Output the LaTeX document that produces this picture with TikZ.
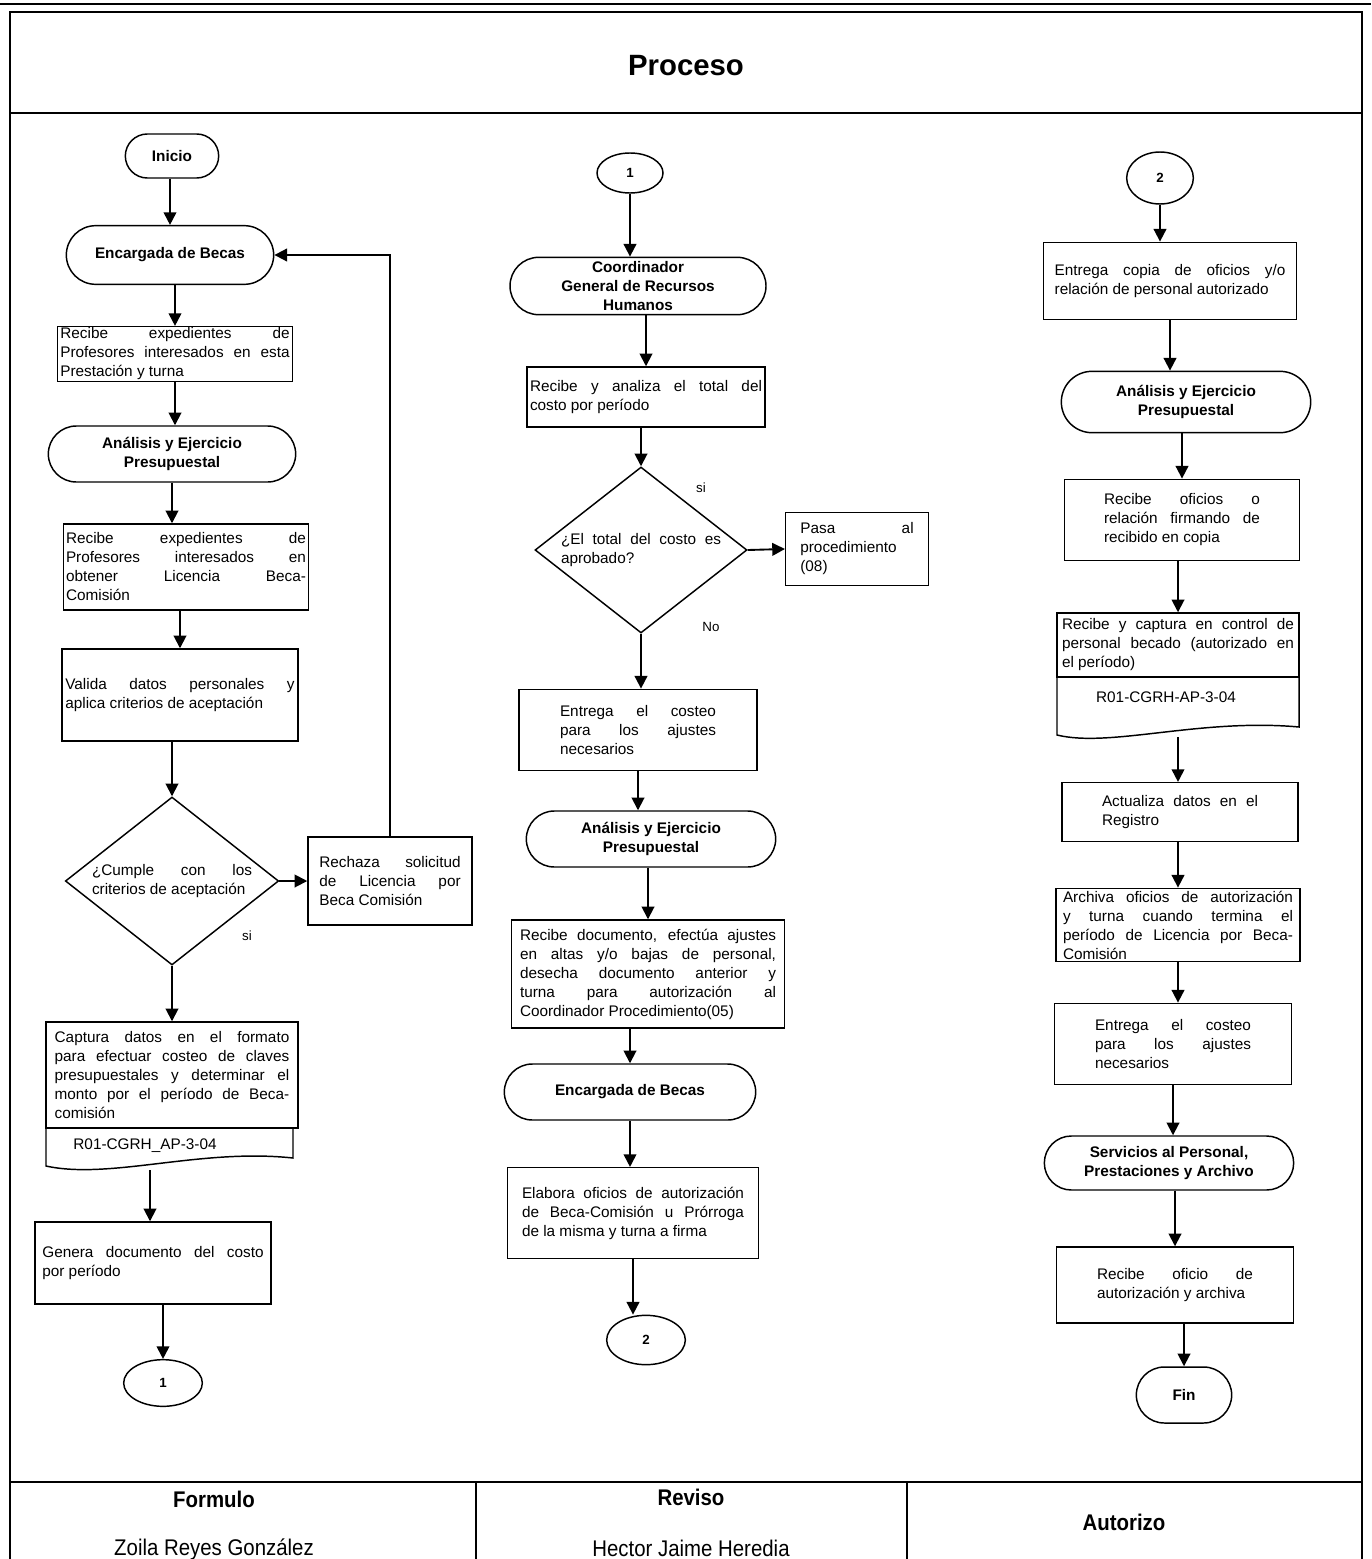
\documentclass[tikz,border=0pt]{standalone}
\usepackage{fontspec}
\setmainfont{Liberation Sans}
\newfontfamily\narrowfont[FakeStretch=0.9]{Liberation Sans}
\usetikzlibrary{arrows.meta,shapes.misc,shapes.geometric}

\tikzset{every picture/.style={line width=0.75pt}}
\tikzset{
  box/.style={draw, line width=1.1pt, rectangle, align=justify, inner xsep=2pt, inner ysep=1pt, font=\fontsize{11.5}{14.25}\selectfont},
  term/.style={draw, line width=1.1pt, rounded rectangle, align=center, inner sep=1pt, font=\fontsize{11.5}{14.25}\selectfont\bfseries},
  conn/.style={draw, line width=1.1pt, ellipse, inner sep=0pt, font=\fontsize{10}{12}\selectfont\bfseries},
  dec/.style={draw, line width=1.1pt, diamond, inner sep=0pt, align=justify, font=\fontsize{11.5}{14.25}\selectfont},
  lbl/.style={inner sep=0.75pt, font=\fontsize{10}{12}\selectfont},
  foot/.style={inner sep=0.75pt, font=\narrowfont\fontsize{17}{20}\selectfont},
  arr/.style={-{Triangle[length=9.5pt,width=9.5pt]}, line width=1.4pt},
}

\begin{document}
\begin{tikzpicture}[x=0.75pt,y=0.75pt,yscale=-1,xscale=1]
\useasboundingbox (0,0) rectangle (1371,1559);
%Frame
\draw [line width=2pt] (0,4) -- (1371,4) ;
\draw [line width=1.3pt] (10,1559) -- (10,12) -- (1362,12) -- (1362,1559) ;
\draw [line width=1.3pt] (10,113) -- (1362,113) ;
\draw [line width=1.3pt] (10,1482) -- (1362,1482) ;
\draw [line width=1.1pt] (476,1482) -- (476,1559) ;
\draw [line width=1.1pt] (907,1482) -- (907,1559) ;
% Text Node
\node [font=\fontsize{22}{26}\selectfont\bfseries] (titulo) at (686,66) {Proceso};

%% left column
\node [term, minimum width=72pt, minimum height=33pt] (ini) at (172,156) {Inicio};
\node [term, minimum width=157.5pt, minimum height=44pt] (encA) at (170,255) {Encargada de Becas};
\node [box, minimum width=176pt, minimum height=41pt, text width=172pt, inner ysep=0pt] (recA) at (175,354) {Recibe expedientes de\linebreak Profesores interesados en esta\linebreak Prestación y turna};
\node [term, minimum width=187.5pt, minimum height=42pt] (anaA) at (172,454) {Análisis y Ejercicio\\Presupuestal};
\node [box, minimum width=184pt, minimum height=64.5pt, text width=180pt] (recB) at (186,567) {Recibe expedientes de\linebreak Profesores interesados en\linebreak obtener Licencia Beca-\linebreak Comisión};
\node [box, minimum width=177pt, minimum height=69pt, text width=172pt] (valA) at (180,695) {Valida datos personales y\linebreak aplica criterios de aceptación};
\node [dec, minimum width=160pt, minimum height=126pt, text width=120pt, shape aspect=1.27] (decA) at (172,881) {¿Cumple con los\linebreak criterios de aceptación};
\node [box, minimum width=123pt, minimum height=66pt, text width=106pt] (rejA) at (390,881) {Rechaza solicitud\linebreak de Licencia por\linebreak Beca Comisión};
\node [lbl] (siA) at (247,936) {si};
%Shape: Document
\node [box, minimum width=189pt, minimum height=79.5pt, text width=176pt] (capA) at (172,1075) {Captura datos en el formato\linebreak para efectuar costeo de claves\linebreak presupuestales y determinar el\linebreak monto por el período de Beca-\linebreak comisión};
\draw [line width=1.1pt] (46,1128) -- (46,1166) .. controls (110,1180) and (200,1148) .. (293,1158) -- (293,1128) ;
\node [lbl, font=\fontsize{11.5}{14.25}\selectfont] (codA) at (145,1146) {R01-CGRH\_AP-3-04};
\coordinate (capAbot) at (150,1170);
\node [box, minimum width=177pt, minimum height=61.5pt, text width=166pt] (genA) at (153,1263) {Genera documento del costo\linebreak por período};
\node [conn, minimum width=59pt, minimum height=35pt] (conA) at (163,1383) {1};

\draw [arr] (encA.north |- ini.south) -- (encA.north) ;
\draw [arr] (recA.north |- encA.south) -- (recA.north) ;
\draw [arr] (recA.south) -- (recA.south |- anaA.north) ;
\draw [arr] (anaA.south) -- (anaA.south |- recB.north) ;
\draw [arr] (valA.north |- recB.south) -- (valA.north) ;
\draw [arr] (decA.north |- valA.south) -- (decA.north) ;
\draw [arr] (decA.east) -- (rejA.west) ;
\draw [arr] (rejA.north) |- (encA.east) ;
\draw [arr] (decA.south) -- (decA.south |- capA.north) ;
\draw [arr] (capAbot) -- (capAbot |- genA.north) ;
\draw [arr] (conA.north |- genA.south) -- (conA.north) ;

%% middle column
\node [conn, minimum width=49.5pt, minimum height=30pt] (conB) at (630,173) {1};
\node [term, minimum width=194pt, minimum height=43pt] (cgrh) at (638,286) {Coordinador\\General de Recursos\\Humanos};
\node [box, minimum width=178.5pt, minimum height=45pt, text width=174pt] (recC) at (646,397) {Recibe y analiza el total del\linebreak costo por período};
\node [dec, minimum width=159pt, minimum height=124.5pt, text width=120pt, shape aspect=1.28] (decB) at (641,550) {¿El total del costo es\linebreak aprobado?};
\node [lbl] (siB) at (701,488) {si};
\node [lbl] (noB) at (711,627) {No};
\node [box, minimum width=107pt, minimum height=55pt, text width=85pt] (pasa) at (857,549) {Pasa al\linebreak procedimiento\linebreak (08)};
\node [box, minimum width=178.5pt, minimum height=61pt, text width=117pt] (entB) at (638,730) {Entrega el costeo\linebreak para los ajustes\linebreak necesarios};
\node [term, minimum width=189pt, minimum height=42pt] (anaB) at (651,839) {Análisis y Ejercicio\\Presupuestal};
\node [box, minimum width=205pt, minimum height=81pt, text width=192pt, inner ysep=0pt] (recD) at (648,974) {Recibe documento, efectúa ajustes\linebreak en altas y/o bajas de personal,\linebreak desecha documento anterior y\linebreak turna para autorización al\linebreak Coordinador Procedimiento(05)};
\node [term, minimum width=190.5pt, minimum height=42pt] (encB) at (630,1092) {Encargada de Becas};
\node [box, minimum width=188pt, minimum height=68pt, text width=166.5pt] (elab) at (633,1213) {Elabora oficios de autorización\linebreak de Beca-Comisión u Prórroga\linebreak de la misma y turna a firma};
\node [conn, minimum width=59pt, minimum height=37pt] (conC) at (646,1340) {2};

\draw [arr] (conB.south) -- (conB.south |- cgrh.north) ;
\draw [arr] (recC.north |- cgrh.south) -- (recC.north) ;
\draw [arr] (decB.north |- recC.south) -- (decB.north) ;
\draw [arr] (decB.east) -- (pasa.west) ;
\draw [arr] (decB.south) -- (decB.south |- entB.north) ;
\draw [arr] (entB.south) -- (entB.south |- anaB.north) ;
\draw [arr] (recD.north |- anaB.south) -- (recD.north) ;
\draw [arr] (encB.north |- recD.south) -- (encB.north) ;
\draw [arr] (encB.south) -- (encB.south |- elab.north) ;
\draw [arr] (elab.south) -- (elab.south |- conC.north) ;

%% right column
\node [conn, minimum width=50pt, minimum height=39pt] (conD) at (1160,178) {2};
\node [box, minimum width=190pt, minimum height=58pt, text width=173pt] (entC) at (1170,281) {Entrega copia de oficios y/o\linebreak relación de personal autorizado};
\node [term, minimum width=189pt, minimum height=46pt] (anaC) at (1186,402) {Análisis y Ejercicio\\Presupuestal};
\node [box, minimum width=176pt, minimum height=61pt, text width=117pt] (recE) at (1182,520) {Recibe oficios o\linebreak relación firmando de\linebreak recibido en copia};
%Shape: Document
\node [box, minimum width=181.5pt, minimum height=48pt, text width=174pt] (recF) at (1178,645) {Recibe y captura en control de\linebreak personal becado (autorizado en\linebreak el período)};
\draw [line width=1.1pt] (1057,677) -- (1057,735) .. controls (1110,748) and (1200,718) .. (1299,727) -- (1299,677) ;
\node [lbl, font=\fontsize{11.5}{14.25}\selectfont] (codB) at (1166,697) {R01-CGRH-AP-3-04};
\coordinate (recFbot) at (1178,737);
\node [box, minimum width=177pt, minimum height=44pt, text width=117pt] (actu) at (1180,812) {Actualiza datos en el\linebreak Registro};
\node [box, minimum width=183pt, minimum height=55pt, text width=172.5pt, inner ysep=0pt] (arch) at (1178,925) {Archiva oficios de autorización\linebreak y turna cuando termina el\linebreak período de Licencia por Beca-\linebreak Comisión};
\node [box, minimum width=178pt, minimum height=61pt, text width=117pt] (entD) at (1173,1044) {Entrega el costeo\linebreak para los ajustes\linebreak necesarios};
\node [term, minimum width=189pt, minimum height=40.5pt] (serv) at (1169,1163) {Servicios al Personal,\\Prestaciones y Archivo};
\node [box, minimum width=178pt, minimum height=57pt, text width=117pt] (recG) at (1175,1285) {Recibe oficio de\linebreak autorización y archiva};
\node [term, minimum width=73.5pt, minimum height=42pt] (fin) at (1184,1395) {Fin};

\draw [arr] (conD.south) -- (conD.south |- entC.north) ;
\draw [arr] (entC.south) -- (entC.south |- anaC.north) ;
\draw [arr] (recE.north |- anaC.south) -- (recE.north) ;
\draw [arr] (recF.north |- recE.south) -- (recF.north) ;
\draw [arr] (recFbot) -- (recFbot |- actu.north) ;
\draw [arr] (arch.north |- actu.south) -- (arch.north) ;
\draw [arr] (arch.south) -- (arch.south |- entD.north) ;
\draw [arr] (entD.south) -- (entD.south |- serv.north) ;
\draw [arr] (recG.north |- serv.south) -- (recG.north) ;
\draw [arr] (fin.north |- recG.south) -- (fin.north) ;

%% footer
\node [foot] (formulo) at (214,1499) {\bfseries Formulo};
\node [foot] (zoila) at (214,1549) {Zoila Reyes González};
\node [foot] (reviso) at (691,1497) {\bfseries Reviso};
\node [foot] (hector) at (691,1548) {Hector Jaime Heredia};
\node [foot] (autorizo) at (1124,1522) {\bfseries Autorizo};
\end{tikzpicture}
\end{document}
